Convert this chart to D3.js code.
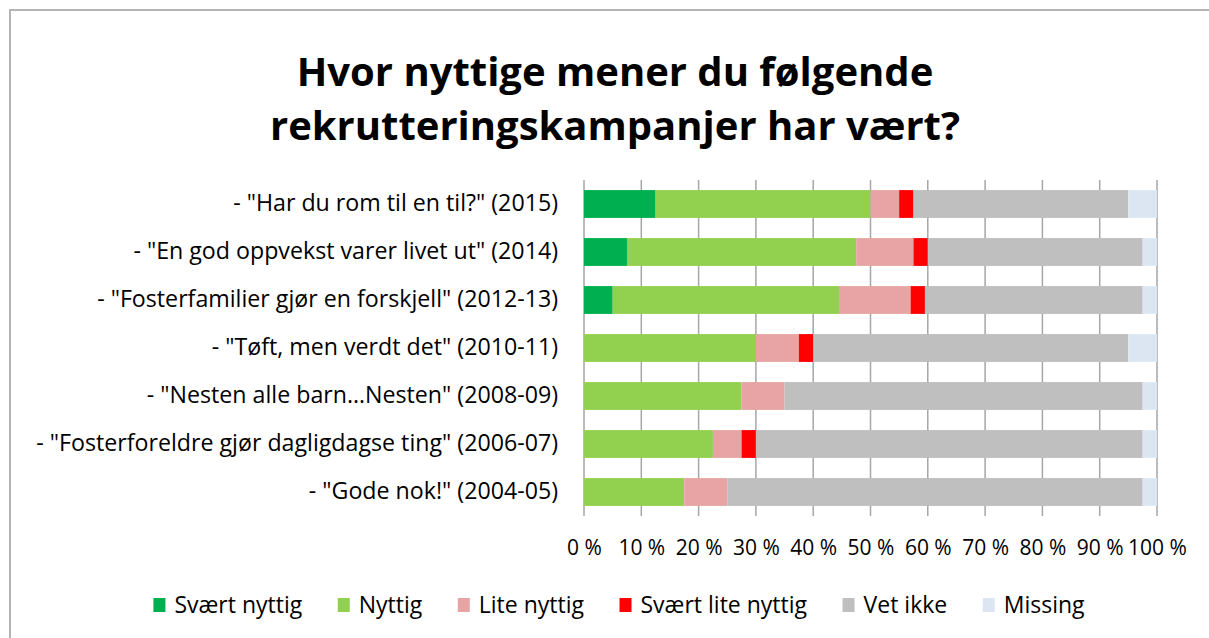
<!DOCTYPE html>
<html>
<head>
<meta charset="utf-8">
<script src="https://cdn.jsdelivr.net/npm/d3@7"></script>
<style>
  body { margin: 0; background: #fff; }
  svg { display: block; font-family: "Open Sans", "Noto Sans", sans-serif; }
</style>
</head>
<body>
<svg id="chart" width="1209" height="638"></svg>
<script>
// data
var titleLines = ["Hvor nyttige mener du følgende", "rekrutteringskampanjer har vært?"];
var campaigns = [
  '- "Har du rom til en til?" (2015)',
  '- "En god oppvekst varer livet ut" (2014)',
  '- "Fosterfamilier gjør en forskjell" (2012-13)',
  '- "Tøft, men verdt det" (2010-11)',
  '- "Nesten alle barn…Nesten" (2008-09)',
  '- "Fosterforeldre gjør dagligdagse ting" (2006-07)',
  '- "Gode nok!" (2004-05)'
];
var seriesNames = ["Svært nyttig", "Nyttig", "Lite nyttig", "Svært lite nyttig", "Vet ikke", "Missing"];
var seriesColors = ["#00b050", "#92d050", "#e8a4a4", "#ff0000", "#bfbfbf", "#dce6f2"];
var sværtNyttig     = [12.5, 7.5, 5, 0, 0, 0, 0];
var nyttig          = [37.5, 40, 39.5, 30, 27.5, 22.5, 17.5];
var liteNyttig      = [5, 10, 12.5, 7.5, 7.5, 5, 7.5];
var sværtLiteNyttig = [2.5, 2.5, 2.5, 2.5, 0, 2.5, 0];
var vetIkke         = [37.5, 37.5, 38, 55, 62.5, 67.5, 72.5];
var missing         = [5, 2.5, 2.5, 5, 2.5, 2.5, 2.5];
var xTicks = [0, 10, 20, 30, 40, 50, 60, 70, 80, 90, 100];

(function() {
  var svg = d3.select("#chart");
  var W = 1209, H = 638;
  var plotLeft = 584, plotRight = 1157, plotTop = 180, plotBottom = 516;

  // frame (only top and left edges visible)
  svg.append("path")
    .attr("d", "M10," + H + "V10H" + W)
    .attr("fill", "none").attr("stroke", "#b4b4b4").attr("stroke-width", 2);

  // title
  svg.append("g").selectAll("text").data(titleLines).enter().append("text")
    .attr("x", 615).attr("y", function(d, i) { return 86 + i * 54; })
    .attr("text-anchor", "middle")
    .attr("font-size", 40).attr("font-weight", "bold").attr("fill", "#000")
    .text(function(d) { return d; });

  var rows = campaigns.map(function(c, i) {
    var r = { name: c };
    var vals = [sværtNyttig[i], nyttig[i], liteNyttig[i], sværtLiteNyttig[i], vetIkke[i], missing[i]];
    seriesNames.forEach(function(s, j) { r[s] = vals[j]; });
    return r;
  });
  var stacked = d3.stack().keys(seriesNames)(rows);

  var x = d3.scaleLinear().domain([0, 100]).range([plotLeft, plotRight]);
  var y = d3.scaleBand().domain(campaigns).range([plotTop, plotBottom]).paddingInner(0.42).paddingOuter(0.21);

  // gridlines
  svg.append("g").selectAll("line").data(xTicks).enter().append("line")
    .attr("x1", function(d) { return x(d); }).attr("x2", function(d) { return x(d); })
    .attr("y1", plotTop).attr("y2", plotBottom)
    .attr("stroke", "#a6a6a6").attr("stroke-width", 1.5);

  // bars
  svg.append("g").selectAll("g").data(stacked).enter().append("g")
    .attr("fill", function(d, i) { return seriesColors[i]; })
    .selectAll("rect").data(function(d) { return d; }).enter().append("rect")
    .attr("x", function(d) { return x(d[0]); })
    .attr("width", function(d) { return x(d[1]) - x(d[0]); })
    .attr("y", function(d) { return y(d.data.name); })
    .attr("height", y.bandwidth());

  // category labels
  var yAxis = d3.axisLeft(y).tickSize(0).tickPadding(26);
  svg.append("g").attr("transform", "translate(" + plotLeft + ",0)").call(yAxis)
    .call(function(g) { g.select(".domain").remove(); })
    .selectAll("text").attr("font-family", "Open Sans").attr("font-size", 23.2).attr("fill", "#000");

  // x axis labels
  var xAxis = d3.axisBottom(x).tickValues(xTicks).tickSize(0).tickPadding(24)
    .tickFormat(function(d) { return d + " %"; });
  svg.append("g").attr("transform", "translate(0," + plotBottom + ")").call(xAxis)
    .call(function(g) { g.select(".domain").remove(); })
    .selectAll("text").attr("font-family", "Open Sans").attr("font-size", 21).attr("fill", "#000");

  // legend
  var legend = svg.append("g").attr("transform", "translate(0,605)");
  var items = legend.selectAll("g").data(seriesNames).enter().append("g");
  items.append("rect").attr("y", -7).attr("width", 12).attr("height", 14)
    .attr("fill", function(d, i) { return seriesColors[i]; });
  items.append("text").attr("x", 21).attr("dy", "0.35em")
    .attr("font-size", 23).attr("fill", "#000").text(function(d) { return d; });
  var gap = 35.5, pos = 0, xs = [];
  items.each(function(d, i) {
    xs.push(pos);
    pos += 21 + this.querySelector("text").getComputedTextLength() + gap;
  });
  var total = pos - gap, start = 619 - total / 2;
  items.attr("transform", function(d, i) { return "translate(" + (start + xs[i]) + ",0)"; });
})();
</script>
</body>
</html>
